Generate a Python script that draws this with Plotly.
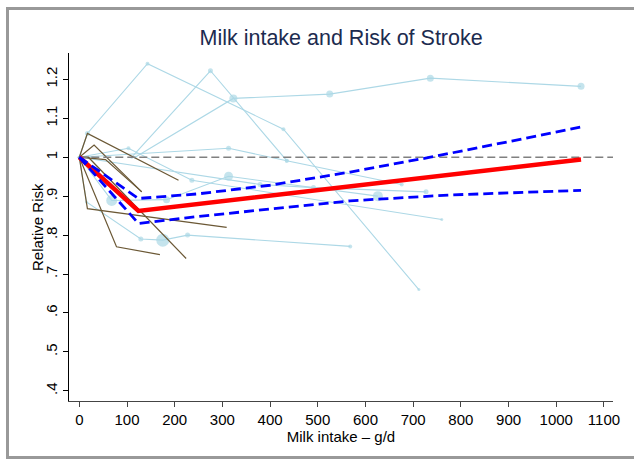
import plotly.graph_objects as go

# ---- data ----
# light-blue study curves: x = milk intake (g/d), y = relative risk, w = marker size (study weight)
l1_x = [0, 17, 143, 428, 712]
l1_y = [1.0, 1.061, 1.24, 1.072, 0.66]
l1_w = [3, 5, 4, 4, 3]

l2_x = [110, 275, 435, 676]
l2_y = [1.0, 1.222, 0.991, 0.93]
l2_w = [3, 5, 4, 4]

l3_x = [117, 323, 525, 736, 1052]
l3_y = [1.0, 1.151, 1.162, 1.203, 1.182]
l3_w = [3, 8, 7, 7, 7]

l4_x = [0, 379, 491, 727]
l4_y = [1.0, 0.93, 0.922, 0.911]
l4_w = [3, 5, 5, 5]

l5_x = [0, 313, 435]
l5_y = [1.0, 1.023, 0.991]
l5_w = [3, 5, 4]

l6_x = [0, 68, 183, 313, 626]
l6_y = [1.0, 0.889, 0.891, 0.951, 0.90]
l6_w = [3, 11, 7, 9, 10]

l7_x = [0, 103, 236, 760]
l7_y = [1.0, 1.023, 0.941, 0.84]
l7_w = [3, 4, 5, 3]

l8_x = [0, 15, 129, 175, 227, 568]
l8_y = [1.0, 0.885, 0.79, 0.787, 0.80, 0.771]
l8_w = [3, 3, 5, 13, 5, 4]

# brown study curves
b1_x = [0, 17, 208]
b1_y = [1.0, 1.061, 0.941]
b2_x = [0, 31, 131]
b2_y = [1.0, 1.031, 0.911]
b3_x = [0, 17, 309]
b3_y = [1.0, 0.868, 0.82]
b4_x = [0, 78, 169]
b4_y = [1.0, 0.77, 0.75]
b5_x = [0, 19, 224]
b5_y = [1.0, 1.0, 0.74]
b6_x = [0, 55, 131]
b6_y = [1.0, 0.994, 0.911]

# pooled dose-response and 95% CI
fit_x = [0, 124, 1052]
fit_y = [1.0, 0.862, 0.994]
up_x = [0, 124, 250, 400, 568, 736, 900, 1052]
up_y = [1.0, 0.894, 0.906, 0.928, 0.962, 1.0, 1.04, 1.078]
lo_x = [0, 124, 250, 358, 568, 777, 1052]
lo_y = [1.0, 0.83, 0.848, 0.862, 0.888, 0.903, 0.915]

ref_x = [0, 1120]
ref_y = [1.0, 1.0]

x_ticks = [0, 100, 200, 300, 400, 500, 600, 700, 800, 900, 1000, 1100]
y_ticks = [0.4, 0.5, 0.6, 0.7, 0.8, 0.9, 1.0, 1.1, 1.2]
y_labels = [".4", ".5", ".6", ".7", ".8", ".9", "1", "1.1", "1.2"]

# ---- figure ----
LB = "#add8e6"
BR = "#6b5835"
fig = go.Figure()

for xs, ys, ws in [(l1_x, l1_y, l1_w), (l2_x, l2_y, l2_w), (l3_x, l3_y, l3_w),
                   (l4_x, l4_y, l4_w), (l5_x, l5_y, l5_w), (l6_x, l6_y, l6_w),
                   (l7_x, l7_y, l7_w), (l8_x, l8_y, l8_w)]:
    fig.add_trace(go.Scatter(x=xs, y=ys, mode="lines+markers",
                             line=dict(color=LB, width=1.1),
                             marker=dict(color=LB, size=ws, line=dict(width=0)),
                             showlegend=False, hoverinfo="skip"))

for xs, ys in [(b1_x, b1_y), (b2_x, b2_y), (b3_x, b3_y),
               (b4_x, b4_y), (b5_x, b5_y), (b6_x, b6_y)]:
    fig.add_trace(go.Scatter(x=xs, y=ys, mode="lines",
                             line=dict(color=BR, width=1.2),
                             showlegend=False, hoverinfo="skip"))

fig.add_trace(go.Scatter(x=ref_x, y=ref_y, mode="lines",
                         line=dict(color="#808080", width=1.5, dash="8px,4px"),
                         showlegend=False, hoverinfo="skip"))
fig.add_trace(go.Scatter(x=fit_x, y=fit_y, mode="lines",
                         line=dict(color="#ff0000", width=4.5),
                         showlegend=False, hoverinfo="skip"))
fig.add_trace(go.Scatter(x=up_x, y=up_y, mode="lines",
                         line=dict(color="#0000ff", width=2.8, dash="10px,5px"),
                         showlegend=False, hoverinfo="skip"))
fig.add_trace(go.Scatter(x=lo_x, y=lo_y, mode="lines",
                         line=dict(color="#0000ff", width=2.8, dash="10px,5px"),
                         showlegend=False, hoverinfo="skip"))

FONT = "Liberation Sans, Arial, sans-serif"
fig.update_layout(
    width=634, height=460,
    margin=dict(l=69, r=21, t=53, b=59),
    paper_bgcolor="white", plot_bgcolor="white",
    font=dict(family=FONT, size=15, color="black"),
    title=dict(text="Milk intake and Risk of Stroke", x=0.538, xanchor="center",
               y=1 - 37 / 460, yanchor="middle",
               font=dict(family=FONT, size=21.5, color="#1c2b4f")),
    xaxis=dict(range=[-21.6, 1119], tickvals=x_ticks, showgrid=False, zeroline=False,
               showline=True, linecolor="#444", linewidth=1.2,
               ticks="outside", ticklen=5, tickcolor="#444", tickwidth=1.2,
               tickfont=dict(size=15),
               title=dict(text="Milk intake – g/d", font=dict(size=15), standoff=3)),
    yaxis=dict(range=[0.374, 1.2676], tickvals=y_ticks, ticktext=y_labels, tickangle=-90,
               showgrid=False, zeroline=False,
               showline=True, linecolor="black", linewidth=1.2,
               ticks="outside", ticklen=5, tickcolor="black", tickwidth=1.2,
               tickfont=dict(size=15)),
    annotations=[dict(text="Relative Risk", xref="paper", yref="paper",
                      x=(37 - 69) / 544, y=0.5, xanchor="center", yanchor="middle",
                      textangle=-90, showarrow=False, font=dict(size=15, color="black"))],
    shapes=[dict(type="rect", xref="paper", yref="paper",
                 x0=(7.5 - 69) / 544, x1=1.1, y0=(401 - 457.5) / 348, y1=(401 - 8.5) / 348,
                 line=dict(color="#999999", width=3), fillcolor="rgba(0,0,0,0)", layer="below")],
)

fig.write_html("out.html")
